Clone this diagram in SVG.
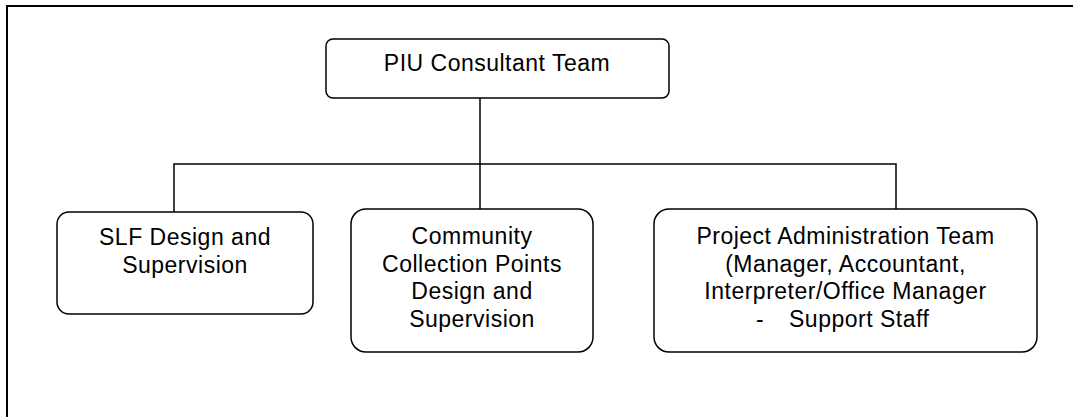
<svg xmlns="http://www.w3.org/2000/svg" width="1073" height="417" viewBox="0 0 1073 417">
<style>
.box{fill:#fff;stroke:#000;stroke-width:1.5}
.ln{fill:none;stroke:#000;stroke-width:1.5}
.t{font-family:"Liberation Sans",Arial,sans-serif;font-size:23px;letter-spacing:0.5px;fill:#000;text-anchor:middle}
</style>
<rect x="0" y="0" width="1073" height="417" fill="#fff"/>
<path d="M7,420 V6 H1080" fill="none" stroke="#000" stroke-width="2"/>
<g id="connectors">
<path class="ln" d="M480,98 V209"/>
<path class="ln" d="M174,212 V164 H896 V209"/>
</g>
<g id="piu">
<rect class="box" x="326" y="39" width="343" height="59" rx="7"/>
<text class="t" x="497" y="71">PIU Consultant Team</text>
</g>
<g id="slf">
<rect class="box" x="57" y="212" width="256" height="102" rx="12"/>
<text class="t" x="185" y="245">SLF Design and</text>
<text class="t" x="185" y="272.5">Supervision</text>
</g>
<g id="ccp">
<rect class="box" x="351" y="209" width="242" height="143" rx="15"/>
<text class="t" x="472" y="244">Community</text>
<text class="t" x="472" y="271.5">Collection Points</text>
<text class="t" x="472" y="299">Design and</text>
<text class="t" x="472" y="326.5">Supervision</text>
</g>
<g id="pat">
<rect class="box" x="654" y="209" width="383" height="143" rx="15"/>
<text class="t" x="845.5" y="243.5">Project Administration Team</text>
<text class="t" x="845.5" y="271.5">(Manager, Accountant,</text>
<text class="t" x="845.5" y="299.3">Interpreter/Office Manager</text>
<text class="t" style="text-anchor:start" y="327.3"><tspan x="756">-</tspan><tspan x="789">Support Staff</tspan></text>
</g>
</svg>
